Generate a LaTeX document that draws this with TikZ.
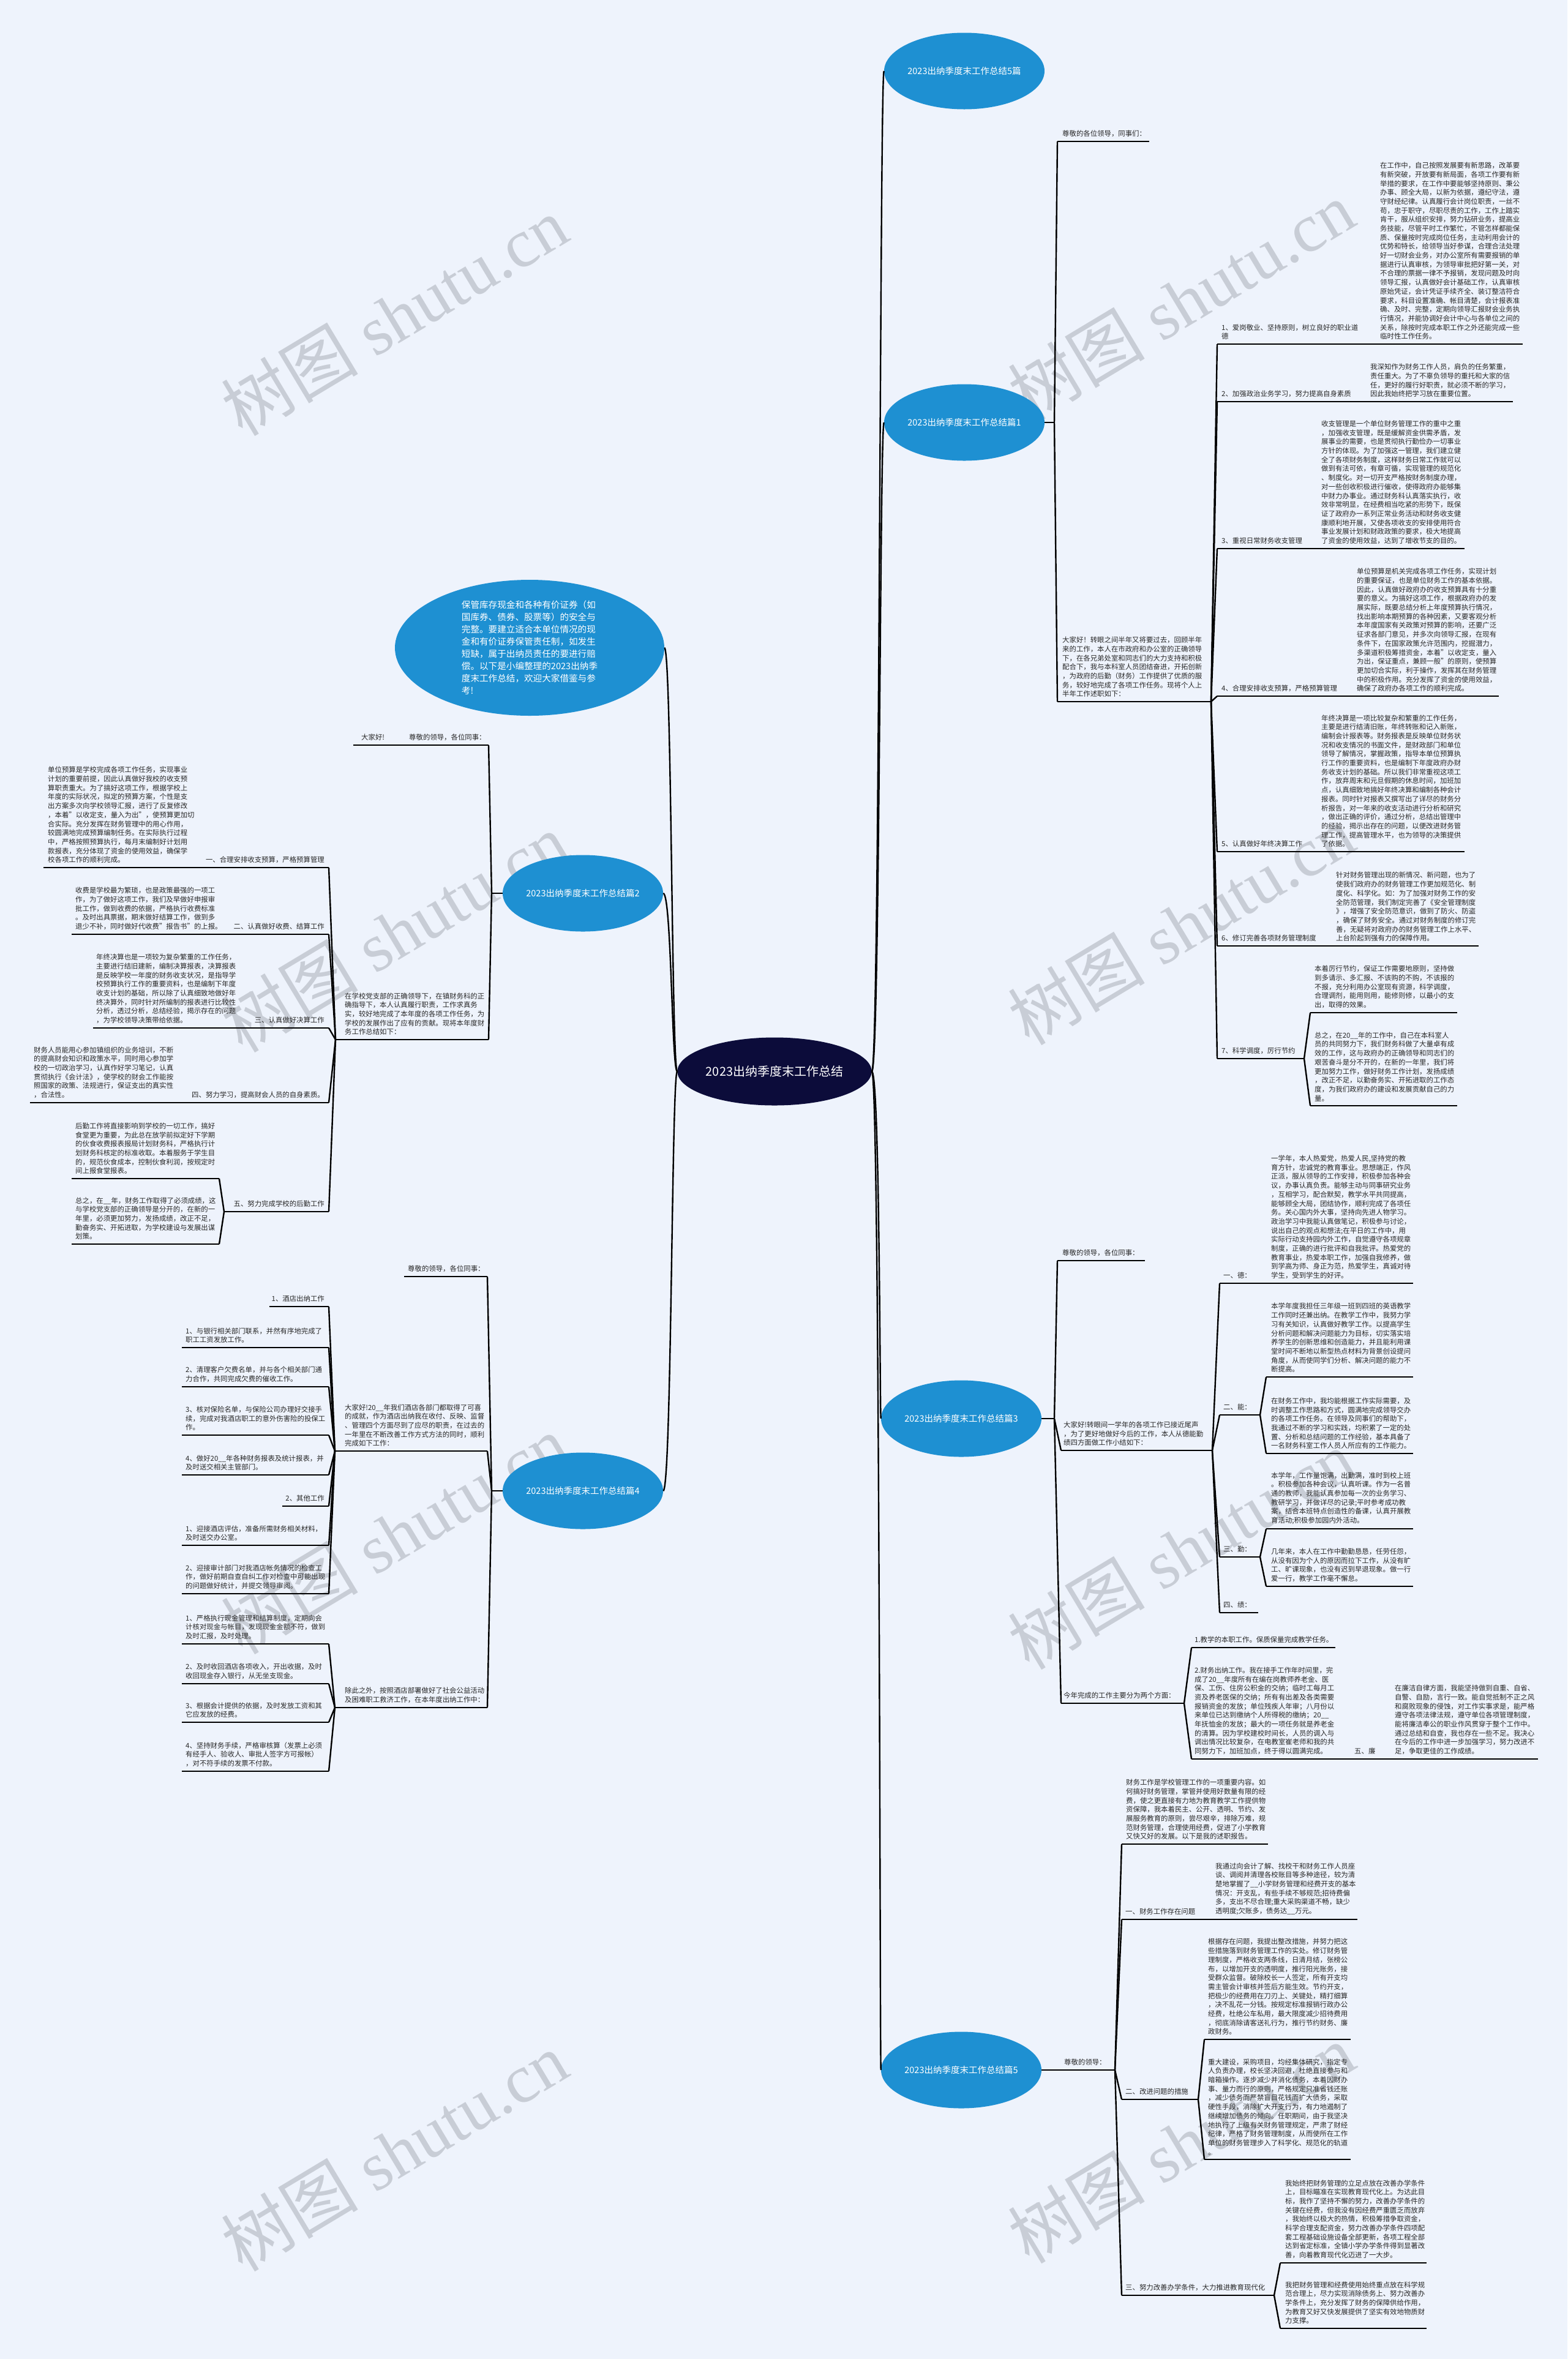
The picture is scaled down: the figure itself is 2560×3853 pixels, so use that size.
\documentclass[tikz,border=0pt]{standalone}
\usepackage{fontspec}
\setmainfont{Noto Sans CJK SC}
\newfontfamily\wmfont{Liberation Serif}
\usetikzlibrary{shapes.geometric}
\definecolor{bgc}{RGB}{238,243,252}
\definecolor{brblue}{RGB}{30,144,210}
\definecolor{navy}{RGB}{12,12,58}
\definecolor{wmgray}{RGB}{200,205,214}
\definecolor{txtc}{RGB}{40,40,40}
\newcommand\TxL[4]{\node[txt,anchor=south west,yshift=7pt] (#1) at (#2,#3) {#4};}
\newcommand\TxR[4]{\node[txt,anchor=south east,align=right,yshift=7pt] (#1) at (#2,#3) {#4};}
\newcommand\ULn[3]{\draw[ln] (#1,#3) -- (#2,#3);}
\newcommand\Cn[4]{\draw[ln] (#1,#2) -- (#3,#4);}
\newcommand\WM[3]{\node[wmk] (#1) at (#2,#3) {树图\hspace{0.25em}{\wmfont shutu.cn}};}
\begin{document}
\begin{tikzpicture}[x=1pt,y=-1pt,
  txt/.style={font=\fontsize{11.4}{14.7}\selectfont, align=left, inner sep=0pt, text=txtc},
  ln/.style={line width=2.4pt, black, line join=round},
  br/.style={ellipse, fill=brblue, text=white, inner sep=0pt, minimum width=262pt, minimum height=125pt, font=\fontsize{14.5}{16}\selectfont},
  wmk/.style={rotate=31, text=wmgray, inner sep=0pt, font=\fontsize{112}{120}\selectfont}]
\fill[bgc] (0,0) rectangle (2560,3853);
\useasboundingbox (0,0) rectangle (2560,3853);
% watermarks
\WM{wma}{644}{516}
\WM{wmb}{1929}{491}
\WM{wmc}{644}{1523}
\WM{wmd}{1929}{1511}
\WM{wme}{644}{2506}
\WM{wmf}{1929}{2531}
\WM{wmg}{644}{3514}
\WM{wmh}{1929}{3501}
% central and branch nodes
\node[ellipse, fill=navy, text=white, minimum width=310pt, minimum height=111pt, inner sep=0pt, font=\fontsize{20}{24}\selectfont] (ctr) at (1265,1750) {2023出纳季度末工作总结};
\node[br] (b0) at (1575,116) {2023出纳季度末工作总结5篇};
\node[br] (b1) at (1575,690) {2023出纳季度末工作总结篇1};
\node[br] (b3) at (1570,2317) {2023出纳季度末工作总结篇3};
\node[br] (b5) at (1570,3381) {2023出纳季度末工作总结篇5};
\node[br] (b2) at (952,1459) {2023出纳季度末工作总结篇2};
\node[br] (b4) at (952,2435) {2023出纳季度末工作总结篇4};
\node[ellipse, fill=brblue, text=white, minimum width=440pt, minimum height=222pt, inner sep=0pt, align=left, font=\fontsize{14.6}{20}\selectfont] (intro) at (865,1058) {保管库存现金和各种有价证券（如\\国库券、债券、股票等）的安全与\\完整。要建立适合本单位情况的现\\金和有价证券保管责任制，如发生\\短缺，属于出纳员责任的要进行赔\\偿。以下是小编整理的2023出纳季\\度末工作总结，欢迎大家借鉴与参\\考!};
% trunk connectors
\draw[ln] (ctr.east) .. controls (1437,1750) and (1437,116) .. (b0.west);
\draw[ln] (ctr.east) .. controls (1437,1750) and (1437,690) .. (b1.west);
\draw[ln] (ctr.east) .. controls (1437,1750) and (1437,2317) .. (b3.west);
\draw[ln] (ctr.east) .. controls (1437,1750) and (1437,3381) .. (b5.west);
\draw[ln] (ctr.west) .. controls (1097,1750) and (1097,1058) .. (intro.east);
\draw[ln] (ctr.west) .. controls (1097,1750) and (1097,1459) .. (b2.east);
\draw[ln] (ctr.west) .. controls (1097,1750) and (1097,2435) .. (b4.east);

% ================= 篇1 =================
\draw[ln] (b1.east) -- (1722,690);
\Cn{1722}{690}{1727}{231}
\Cn{1722}{690}{1727}{1146}
\TxL{p1a}{1735}{231}{尊敬的各位领导，同事们：}
\ULn{1727}{1877}{231}
\TxL{p1b}{1735}{1146}{大家好！转眼之间半年又将要过去，回顾半年\\来的工作，本人在市政府和办公室的正确领导\\下，在各兄弟处室和同志们的大力支持和积极\\配合下，我与本科室人员团结奋进，开拓创新\\，为政府的后勤（财务）工作提供了优质的服\\务，较好地完成了各项工作任务。现将个人上\\半年工作述职如下：}
\ULn{1727}{1978}{1146}
\foreach \yy in {562,656,896,1137,1391,1545,1729} {\draw[ln] (1978,1146) -- (1988,\yy);}
\TxL{p1i1}{1995}{562}{1、爱岗敬业、坚持原则，树立良好的职业道\\德}
\TxL{p1i1t}{2254}{562}{在工作中，自己按照发展要有新思路，改革要\\有新突破，开放要有新局面，各项工作要有新\\举措的要求，在工作中要能够坚持原则、秉公\\办事、顾全大局，以新为依据，遵纪守法，遵\\守财经纪律。认真履行会计岗位职责，一丝不\\苟，忠于职守，尽职尽责的工作，工作上踏实\\肯干，服从组织安排，努力钻研业务，提高业\\务技能，尽管平时工作繁忙，不管怎样都能保\\质、保量按时完成岗位任务，主动利用会计的\\优势和特长，给领导当好参谋，合理合法处理\\好一切财会业务，对办公室所有需要报销的单\\据进行认真审核，为领导审批把好第一关，对\\不合理的票据一律不予报销，发现问题及时向\\领导汇报，认真做好会计基础工作，认真审核\\原始凭证，会计凭证手续齐全、装订整洁符合\\要求，科目设置准确、帐目清楚，会计报表准\\确、及时、完整，定期向领导汇报财会业务执\\行情况，并能协调好会计中心与各单位之间的\\关系，除按时完成本职工作之外还能完成一些\\临时性工作任务。}
\ULn{1988}{2487}{562}
\TxL{p1i2}{1995}{656}{2、加强政治业务学习，努力提高自身素质}
\TxL{p1i2t}{2238}{656}{我深知作为财务工作人员，肩负的任务繁重，\\责任重大。为了不辜负领导的重托和大家的信\\任，更好的履行好职责，就必须不断的学习，\\因此我始终把学习放在重要位置。}
\ULn{1988}{2471}{656}
\TxL{p1i3}{1995}{896}{3、重视日常财务收支管理}
\TxL{p1i3t}{2158}{896}{收支管理是一个单位财务管理工作的重中之重\\，加强收支管理，既是缓解资金供需矛盾，发\\展事业的需要，也是贯彻执行勤俭办一切事业\\方针的体现。为了加强这一管理，我们建立健\\全了各项财务制度，这样财务日常工作就可以\\做到有法可依，有章可循，实现管理的规范化\\、制度化。对一切开支严格按财务制度办理，\\对一些创收积极进行催收，使得政府办能够集\\中财力办事业。通过财务科认真落实执行，收\\效非常明显，在经费相当吃紧的形势下，既保\\证了政府办一系列正常业务活动和财务收支健\\康顺利地开展，又使各项收支的安排使用符合\\事业发展计划和财政政策的要求，极大地提高\\了资金的使用效益，达到了增收节支的目的。}
\ULn{1988}{2392}{896}
\TxL{p1i4}{1995}{1137}{4、合理安排收支预算，严格预算管理}
\TxL{p1i4t}{2216}{1137}{单位预算是机关完成各项工作任务，实现计划\\的重要保证，也是单位财务工作的基本依据。\\因此，认真做好政府办的收支预算具有十分重\\要的意义。为搞好这项工作，根据政府办的发\\展实际，既要总结分析上年度预算执行情况，\\找出影响本期预算的各种因素，又要客观分析\\本年度国家有关政策对预算的影响，还要广泛\\征求各部门意见，并多次向领导汇报，在现有\\条件下，在国家政策允许范围内，挖掘潜力，\\多渠道积极筹措资金，本着"以收定支，量入\\为出，保证重点，兼顾一般"的原则，使预算\\更加切合实际，利于操作，发挥其在财务管理\\中的积极作用。充分发挥了资金的使用效益，\\确保了政府办各项工作的顺利完成。}
\ULn{1988}{2448}{1137}
\TxL{p1i5}{1995}{1391}{5、认真做好年终决算工作}
\TxL{p1i5t}{2158}{1391}{年终决算是一项比较复杂和繁重的工作任务，\\主要是进行结清旧账，年终转账和记入新账，\\编制会计报表等。财务报表是反映单位财务状\\况和收支情况的书面文件，是财政部门和单位\\领导了解情况，掌握政策，指导本单位预算执\\行工作的重要资料，也是编制下年度政府办财\\务收支计划的基础。所以我们非常重视这项工\\作，放弃周末和元旦假期的休息时间，加班加\\点，认真细致地搞好年终决算和编制各种会计\\报表。同时针对报表又撰写出了详尽的财务分\\析报告，对一年来的收支活动进行分析和研究\\，做出正确的评价，通过分析，总结出管理中\\的经验，揭示出存在的问题，以便改进财务管\\理工作，提高管理水平，也为领导的决策提供\\了依据。}
\ULn{1988}{2392}{1391}
\TxL{p1i6}{1995}{1545}{6、修订完善各项财务管理制度}
\TxL{p1i6t}{2182}{1545}{针对财务管理出现的新情况、新问题，也为了\\使我们政府办的财务管理工作更加规范化、制\\度化、科学化。如：为了加强对财务工作的安\\全防范管理，我们制定完善了《安全管理制度\\》，增强了安全防范意识，做到了防火、防盗\\，确保了财务安全。通过对财务制度的修订完\\善，无疑将对政府办的财务管理工作上水平、\\上台阶起到强有力的保障作用。}
\ULn{1988}{2415}{1545}
\TxL{p1i7}{1995}{1729}{7、科学调度，厉行节约}
\ULn{1988}{2130}{1729}
\Cn{2130}{1729}{2140}{1654}
\Cn{2130}{1729}{2140}{1806}
\TxL{p1i7a}{2147}{1654}{本着厉行节约，保证工作需要地原则，坚持做\\到多请示、多汇报、不该购的不购，不该报的\\不报，充分利用办公室现有资源，科学调度，\\合理调剂，能用则用，能修则修，以最小的支\\出，取得的效果。}
\ULn{2140}{2380}{1654}
\TxL{p1i7b}{2147}{1806}{总之，在20\_\_年的工作中，自己在本科室人\\员的共同努力下，我们财务科做了大量卓有成\\效的工作，这与政府办的正确领导和同志们的\\艰苦奋斗是分不开的，在新的一年里，我们将\\更加努力工作，做好财务工作计划，发扬成绩\\，改正不足，以勤奋务实、开拓进取的工作态\\度，为我们政府办的建设和发展贡献自己的力\\量。}
\ULn{2140}{2380}{1806}

% ================= 篇3 =================
\draw[ln] (b3.east) -- (1722,2317);
\Cn{1722}{2317}{1727}{2059}
\Cn{1722}{2317}{1733}{2369}
\Cn{1722}{2317}{1733}{2782}
\TxL{p3a}{1735}{2059}{尊敬的领导，各位同事：}
\ULn{1727}{1870}{2059}
\TxL{p3b}{1737}{2369}{大家好!转眼间一学年的各项工作已接近尾声\\，为了更好地做好今后的工作，本人从德能勤\\绩四方面做工作小结如下：}
\ULn{1733}{1980}{2369}
\foreach \yy in {2096,2311,2543,2634} {\draw[ln] (1980,2369) -- (1992,\yy);}
\TxL{p3d}{1998}{2096}{一、德：}
\TxL{p3dt}{2076}{2096}{一学年，本人热爱党，热爱人民,坚持党的教\\育方针，忠诚党的教育事业。思想端正，作风\\正派，服从领导的工作安排，积极参加各种会\\议，办事认真负责。能够主动与同事研究业务\\，互相学习，配合默契，教学水平共同提高，\\能够顾全大局，团结协作，顺利完成了各项任\\务。关心国内外大事，坚持向先进人物学习。\\政治学习中我能认真做笔记，积极参与讨论，\\说出自己的观点和想法;在平日的工作中，用\\实际行动支持园内外工作，自觉遵守各项规章\\制度，正确的进行批评和自我批评。热爱党的\\教育事业，热爱本职工作，加强自我修养，做\\到学高为师、身正为范，热爱学生，真诚对待\\学生，受到学生的好评。}
\ULn{1992}{2308}{2096}
\TxL{p3n}{1998}{2311}{二、能：}
\ULn{1992}{2058}{2311}
\Cn{2058}{2311}{2068}{2249}
\Cn{2058}{2311}{2068}{2374}
\TxL{p3na}{2076}{2249}{本学年度我担任三年级一班到四班的英语教学\\工作同时还兼出纳。在教学工作中，我努力学\\习有关知识，认真做好教学工作。以提高学生\\分析问题和解决问题能力为目标，切实落实培\\养学生的创新思维和创造能力，并且能利用课\\堂时间不断地以新型热点材料为背景创设提问\\角度，从而使同学们分析、解决问题的能力不\\断提高。}
\ULn{2068}{2308}{2249}
\TxL{p3nb}{2076}{2374}{在财务工作中，我均能根据工作实际需要，及\\时调整工作思路和方式，圆满地完成领导交办\\的各项工作任务。在领导及同事们的帮助下，\\我通过不断的学习和实践，均积累了一定的处\\置、分析和总结问题的工作经验，基本具备了\\一名财务科室工作人员人所应有的工作能力。}
\ULn{2068}{2308}{2374}
\TxL{p3q}{1998}{2543}{三、勤：}
\ULn{1992}{2058}{2543}
\Cn{2058}{2543}{2068}{2497}
\Cn{2058}{2543}{2068}{2591}
\TxL{p3qa}{2076}{2497}{本学年，工作量饱满，出勤满，准时到校上班\\。积极参加各种会议，认真听课。作为一名普\\通的教师，我能认真参加每一次的业务学习、\\教研学习，并做详尽的记录;平时参考成功教\\案，结合本班特点创造性的备课，认真开展教\\育活动;积极参加园内外活动。}
\ULn{2068}{2308}{2497}
\TxL{p3qb}{2076}{2591}{几年来，本人在工作中勤勤恳恳，任劳任怨，\\从没有因为个人的原因而拉下工作，从没有旷\\工、旷课现象，也没有迟到早退现象。做一行\\爱一行，教学工作毫不懈怠。}
\ULn{2068}{2308}{2591}
\TxL{p3j}{1998}{2634}{四、绩：}
\ULn{1992}{2055}{2634}
\TxL{p3c}{1737}{2782}{今年完成的工作主要分为两个方面：}
\ULn{1733}{1934}{2782}
\Cn{1934}{2782}{1946}{2691}
\Cn{1934}{2782}{1946}{2873}
\TxL{p3c1}{1951}{2691}{1.教学的本职工作。保质保量完成教学任务。}
\ULn{1946}{2181}{2691}
\TxL{p3c2}{1951}{2873}{2.财务出纳工作。我在接手工作年时间里，完\\成了20\_\_年度所有在编在岗教师养老金、医\\保、工伤、住房公积金的交纳；临时工每月工\\资及养老医保的交纳；所有有出差及各类需要\\报销资金的发放；单位残疾人年审；八月份以\\来单位已达到缴纳个人所得税的缴纳；20\_\_\\年抚恤金的发放；最大的一项任务就是养老金\\的清算。因为学校建校时间长，人员的调入与\\调出情况比较复杂，在电教室崔老师和我的共\\同努力下，加班加点，终于得以圆满完成。}
\TxL{p3l}{2212}{2873}{五、廉}
\TxL{p3lt}{2278}{2873}{在廉洁自律方面，我能坚持做到自重、自省、\\自警、自励，言行一致。能自觉抵制不正之风\\和腐败现象的侵蚀，对工作实事求是，能严格\\遵守各项法律法规，遵守单位各项管理制度，\\能将廉洁奉公的职业作风贯穿于整个工作中。\\通过总结和自查，我也存在一些不足。我决心\\在今后的工作中进一步加强学习，努力改进不\\足，争取更佳的工作成绩。}
\ULn{1946}{2512}{2873}

% ================= 篇5 =================
\draw[ln] (b5.east) -- (1721,3381);
\TxL{p5a}{1738}{3381}{尊敬的领导：}
\ULn{1721}{1821}{3381}
\foreach \yy in {3012,3135,3429,3749} {\draw[ln] (1821,3381) -- (1832,\yy);}
\TxL{p5i}{1839}{3012}{财务工作是学校管理工作的一项重要内容。如\\何搞好财务管理，掌管并使用好数量有限的经\\费，使之更直接有力地为教育教学工作提供物\\资保障，我本着民主、公开、透明、节约、发\\展服务教育的原则，尝尽艰辛，排除万难，规\\范财务管理，合理使用经费，促进了小学教育\\又快又好的发展。以下是我的述职报告。}
\ULn{1832}{2071}{3012}
\TxL{p5b}{1838}{3135}{一、财务工作存在问题}
\TxL{p5bt}{1985}{3135}{我通过向会计了解、找校干和财务工作人员座\\谈、调阅并清理各校账目等多种途径，较为清\\楚地掌握了\_\_小学财务管理和经费开支的基本\\情况：开支乱，有些手续不够规范;招待费偏\\多，支出不尽合理;重大采购渠道不畅，缺少\\透明度;欠账多，债务达\_\_万元。}
\ULn{1832}{2217}{3135}
\TxL{p5c}{1838}{3429}{二、改进问题的措施}
\ULn{1832}{1957}{3429}
\Cn{1957}{3429}{1967}{3331}
\Cn{1957}{3429}{1967}{3527}
\TxL{p5ca}{1973}{3331}{根据存在问题，我提出整改措施，并努力把这\\些措施落到财务管理工作的实处。修订财务管\\理制度，严格收支两条线，日清月结，张榜公\\布，以增加开支的透明度，推行阳光账务，接\\受群众监督。破除校长一人签定，所有开支均\\需主管会计审核并签后方能生效。节约开支，\\把极少的经费用在刀刃上、关键处，精打细算\\，决不乱花一分钱。按规定标准报销行政办公\\经费，杜绝公车私用，最大限度减少招待费用\\，彻底消除请客送礼行为，推行节约财务、廉\\政财务。}
\ULn{1967}{2206}{3331}
\TxL{p5cb}{1973}{3527}{重大建设，采购项目，均经集体研究，指定专\\人负责办理，校长坚决回避，杜绝直接参与和\\暗箱操作。逐步减少并消化债务，本着因财办\\事、量力而行的原则，严格规定只准省钱还账\\，减少债务而严禁盲目花钱而扩大债务，采取\\硬性手段，消除扩大开支行为，有力地遏制了\\继续增加债务的倾向。任职期间，由于我坚决\\地执行了上级有关财务管理规定，严肃了财经\\纪律，严格了财务管理制度，从而使所在工作\\单位的财务管理步入了科学化、规范化的轨道\\。}
\ULn{1967}{2206}{3527}
\TxL{p5d}{1838}{3749}{三、努力改善办学条件，大力推进教育现代化}
\ULn{1832}{2081}{3749}
\Cn{2081}{3749}{2091}{3696}
\Cn{2081}{3749}{2091}{3803}
\TxL{p5da}{2099}{3696}{我始终把财务管理的立足点放在改善办学条件\\上，目标瞄准在实现教育现代化上。为达此目\\标，我作了坚持不懈的努力，改善办学条件的\\关键在经费，但我没有因经费严重匮乏而放弃\\，我始终以极大的热情，积极筹措争取资金，\\科学合理支配资金，努力改善办学条件四项配\\套工程基础设施设备全部更新，各项工程全部\\达到省定标准，全镇小学办学条件得到显著改\\善，向着教育现代化迈进了一大步。}
\ULn{2091}{2330}{3696}
\TxL{p5db}{2099}{3803}{我把财务管理和经费使用始终重点放在科学规\\范合理上，尽力实现消除债务上、努力改善办\\学条件上，充分发挥了财务的保障供给作用，\\为教育又好又快发展提供了坚实有效地物质财\\力支撑。}
\ULn{2091}{2330}{3803}

% ================= 篇2 =================
\draw[ln] (b2.west) -- (803,1459);
\Cn{803}{1459}{798}{1217}
\Cn{803}{1459}{798}{1698}
\TxL{p2a}{668}{1217}{尊敬的领导，各位同事：}
\TxL{p2a1}{590}{1217}{大家好!}
\ULn{577}{798}{1217}
\TxL{p2b}{563}{1698}{在学校党支部的正确领导下，在镇财务科的正\\确指导下，本人认真履行职责，工作求真务\\实，较好地完成了本年度的各项工作任务，为\\学校的发展作出了应有的贡献。现将本年度财\\务工作总结如下：}
\ULn{548}{798}{1698}
\foreach \yy in {1417,1526,1679,1801,1979} {\draw[ln] (548,1698) -- (537,\yy);}
\TxR{p2i1}{530}{1417}{一、合理安排收支预算，严格预算管理}
\TxL{p2i1t}{78}{1417}{单位预算是学校完成各项工作任务，实现事业\\计划的重要前提，因此认真做好我校的收支预\\算职责重大。为了搞好这项工作，根据学校上\\年度的实际状况，拟定的预算方案，个性是支\\出方案多次向学校领导汇报，进行了反复修改\\，本着"以收定支，量入为出"，使预算更加切\\合实际。充分发挥在财务管理中的用心作用，\\较圆满地完成预算编制任务。在实际执行过程\\中，严格按照预算执行，每月末编制好计划用\\款报表，充分体现了资金的使用效益，确保学\\校各项工作的顺利完成。}
\ULn{71}{537}{1417}
\TxR{p2i2}{530}{1526}{二、认真做好收费、结算工作}
\TxL{p2i2t}{123}{1526}{收费是学校最为繁琐，也是政策最强的一项工\\作，为了做好这项工作，我们及早做好申报审\\批工作，做到收费的依据，严格执行收费标准\\。及时出具票据，期末做好结算工作，做到多\\退少不补，同时做好代收费"报告书"的上报。}
\ULn{117}{537}{1526}
\TxR{p2i3}{530}{1679}{三、认真做好决算工作}
\TxL{p2i3t}{157}{1679}{年终决算也是一项较为复杂繁重的工作任务，\\主要进行结旧建新，编制决算报表，决算报表\\是反映学校一年度的财务收支状况，是指导学\\校预算执行工作的重要资料，也是编制下年度\\收支计划的基础，所以除了认真细致地做好年\\终决算外，同时针对所编制的报表进行比较性\\分析，透过分析，总结经验，揭示存在的问题\\，为学校领导决策带给依据。}
\ULn{152}{537}{1679}
\TxR{p2i4}{530}{1801}{四、努力学习，提高财会人员的自身素质。}
\TxL{p2i4t}{55}{1801}{财务人员能用心参加镇组织的业务培训，不断\\的提高财会知识和政策水平，同时用心参加学\\校的一切政治学习，认真作好学习笔记，认真\\贯彻执行《会计法》，使学校的财会工作能按\\照国家的政策、法规进行，保证支出的真实性\\，合法性。}
\ULn{49}{537}{1801}
\TxR{p2i5}{530}{1979}{五、努力完成学校的后勤工作}
\ULn{366}{537}{1979}
\Cn{366}{1979}{358}{1925}
\Cn{366}{1979}{358}{2032}
\TxL{p2i5a}{123}{1925}{后勤工作将直接影响到学校的一切工作，搞好\\食堂更为重要，为此总在放学前拟定好下学期\\的伙食收费报表报局计划财务科，严格执行计\\划财务科核定的标准收取。本着服务于学生目\\的，规范伙食成本，控制伙食利润，按规定时\\间上报食堂报表。}
\ULn{117}{358}{1925}
\TxL{p2i5b}{123}{2032}{总之，在\_\_年，财务工作取得了必须成绩，这\\与学校党支部的正确领导是分开的，在新的一\\年里，必须更加努力，发扬成绩，改正不足，\\勤奋务实、开拓进取，为学校建设与发展出谋\\划策。}
\ULn{117}{358}{2032}

% ================= 篇4 =================
\draw[ln] (b4.west) -- (803,2435);
\Cn{803}{2435}{796}{2085}
\Cn{803}{2435}{796}{2370}
\Cn{803}{2435}{796}{2789}
\TxL{p4a}{666}{2085}{尊敬的领导，各位同事：}
\ULn{660}{796}{2085}
\TxL{p4b}{563}{2370}{大家好!20\_\_年我们酒店各部门都取得了可喜\\的成就，作为酒店出纳我在收付、反映、监督\\、管理四个方面尽到了应尽的职责，在过去的\\一年里在不断改善工作方式方法的同时，顺利\\完成如下工作：}
\ULn{547}{796}{2370}
\TxL{p4c}{563}{2789}{除此之外，按照酒店部署做好了社会公益活动\\及困难职工救济工作，在本年度出纳工作中：}
\ULn{547}{796}{2789}
\foreach \yy in {2134,2201,2265,2344,2409,2460,2524,2603} {\draw[ln] (547,2370) -- (537,\yy);}
\foreach \yy in {2685,2750,2813,2893} {\draw[ln] (547,2789) -- (537,\yy);}
\TxR{p4b1}{530}{2134}{1、酒店出纳工作}
\ULn{440}{537}{2134}
\TxL{p4b2}{303}{2201}{1、与银行相关部门联系，并然有序地完成了\\职工工资发放工作。}
\ULn{297}{537}{2201}
\TxL{p4b3}{303}{2265}{2、清理客户欠费名单，并与各个相关部门通\\力合作，共同完成欠费的催收工作。}
\ULn{297}{537}{2265}
\TxL{p4b4}{303}{2344}{3、核对保险名单，与保险公司办理好交接手\\续，完成对我酒店职工的意外伤害险的投保工\\作。}
\ULn{297}{537}{2344}
\TxL{p4b5}{303}{2409}{4、做好20\_\_年各种财务报表及统计报表，并\\及时送交相关主管部门。}
\ULn{297}{537}{2409}
\TxR{p4b6}{530}{2460}{2、其他工作}
\ULn{461}{537}{2460}
\TxL{p4b7}{303}{2524}{1、迎接酒店评估，准备所需财务相关材料，\\及时送交办公室。}
\ULn{297}{537}{2524}
\TxL{p4b8}{303}{2603}{2、迎接审计部门对我酒店帐务情况的检查工\\作，做好前期自查自纠工作对检查中可能出现\\的问题做好统计，并提交领导审阅。}
\ULn{297}{537}{2603}
\TxL{p4c1}{303}{2685}{1、严格执行现金管理和结算制度，定期向会\\计核对现金与帐目，发现现金金额不符，做到\\及时汇报，及时处理。}
\ULn{297}{537}{2685}
\TxL{p4c2}{303}{2750}{2、及时收回酒店各项收入，开出收据，及时\\收回现金存入银行，从无坐支现金。}
\ULn{297}{537}{2750}
\TxL{p4c3}{303}{2813}{3、根据会计提供的依据，及时发放工资和其\\它应发放的经费。}
\ULn{297}{537}{2813}
\TxL{p4c4}{303}{2893}{4、坚持财务手续，严格审核算（发票上必须\\有经手人、验收人、审批人签字方可报帐）\\，对不符手续的发票不付款。}
\ULn{297}{537}{2893}
\end{tikzpicture}
\end{document}
